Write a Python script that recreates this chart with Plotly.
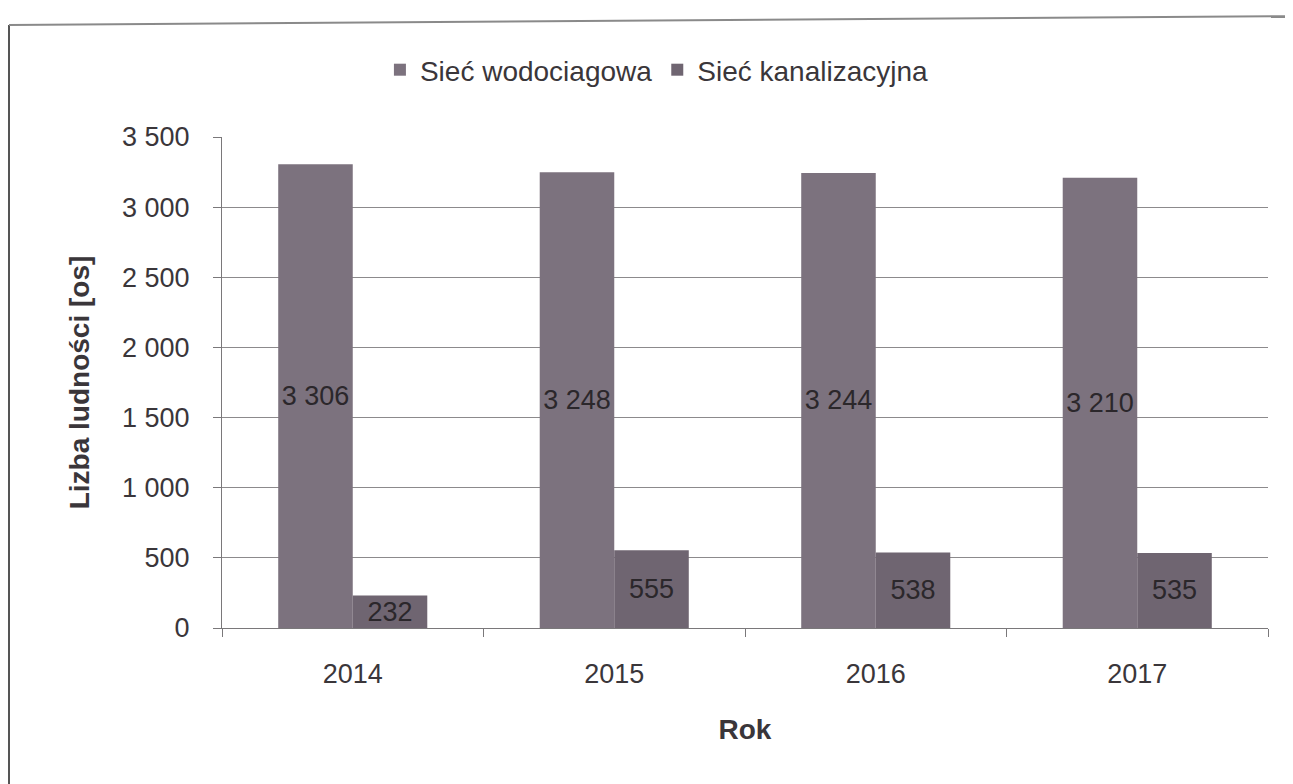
import plotly.graph_objects as go

years = ["2014", "2015", "2016", "2017"]
wodociagowa = [3306, 3248, 3244, 3210]
kanalizacyjna = [232, 555, 538, 535]
series_names = ["Sieć wodociagowa", "Sieć kanalizacyjna"]
y_ticks = [0, 500, 1000, 1500, 2000, 2500, 3000, 3500]

# page has an 8px body margin, so the figure is sized accordingly
W, H = 1285, 776
ml, mr, mt, mb = 214, 25, 129, 156
PW, PH = W - ml - mr, H - mt - mb
FONT = "Liberation Sans, Arial, sans-serif"
TXT = "#3a363a"


def px_x(fx):
    return (fx - ml) / PW


def px_y(fy):
    return (H - mb - fy) / PH


fig = go.Figure()
fig.add_trace(go.Bar(
    x=years, y=wodociagowa, name=series_names[0],
    marker=dict(color="#7c727e", line=dict(width=0)),
    text=wodociagowa, texttemplate="%{y:,}", textposition="inside",
    insidetextanchor="middle", constraintext="none",
    textfont=dict(family=FONT, size=27, color="#2b272b"),
))
fig.add_trace(go.Bar(
    x=years, y=kanalizacyjna, name=series_names[1],
    marker=dict(color="#6f6571", line=dict(width=0)),
    text=kanalizacyjna, texttemplate="%{y:,}", textposition="inside",
    insidetextanchor="middle", constraintext="none",
    textfont=dict(family=FONT, size=27, color="#2b272b"),
))

fig.update_layout(
    width=W, height=H,
    margin=dict(l=ml, r=mr, t=mt, b=mb, autoexpand=False),
    paper_bgcolor="white", plot_bgcolor="white",
    separators=", ",
    barmode="group", bargap=0.43, bargroupgap=0,
    font=dict(family=FONT, size=27, color=TXT),
    legend=dict(orientation="h", xref="container", yref="container",
                x=0.505, xanchor="center", y=1 - 62 / H, yanchor="middle",
                font=dict(size=28, color=TXT), itemwidth=30,
                traceorder="normal", tracegroupgap=0),
    showlegend=True,
    shapes=[
        dict(type="line", xref="paper", yref="paper",
             x0=px_x(1), x1=px_x(1), y0=px_y(H + 10), y1=px_y(17),
             line=dict(color="#555555", width=2)),
        dict(type="line", xref="paper", yref="paper",
             x0=px_x(1), x1=px_x(W + 10), y0=px_y(17), y1=px_y(8),
             line=dict(color="#8a8a8a", width=2)),
    ],
)

fig.update_yaxes(
    range=[0, 3500], tickvals=y_ticks, tickformat=",",
    showgrid=True, gridcolor="#8c8a8c", gridwidth=1,
    showline=True, linecolor="#7a787a", linewidth=1,
    ticks="outside", ticklen=8, tickcolor="#7a787a",
    ticklabelstandoff=18,
    tickfont=dict(size=27, color=TXT),
    title=dict(text="<b>Lizba ludności [os]</b>", font=dict(size=28, color=TXT), standoff=24),
    zeroline=False, automargin=False,
)
fig.update_xaxes(
    showline=True, linecolor="#7a787a", linewidth=1,
    ticks="outside", ticklen=8, tickcolor="#7a787a", tickson="boundaries",
    ticklabelstandoff=22,
    tickfont=dict(size=27, color=TXT),
    title=dict(text="<b>Rok</b>", font=dict(size=28, color=TXT), standoff=30),
    automargin=False,
)

fig.write_html("out.html")
